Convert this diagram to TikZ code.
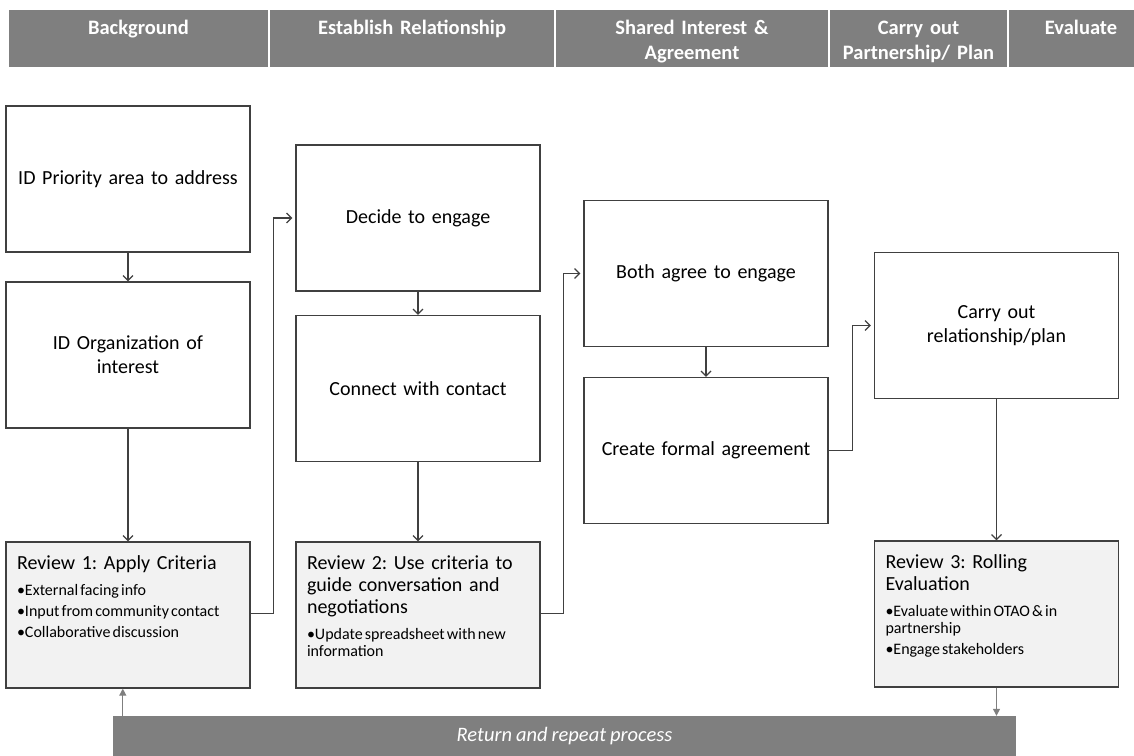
\documentclass[tikz,border=0pt]{standalone}
\usepackage{fontspec}
\setmainfont{Carlito}[WordSpace=0.85]
\usetikzlibrary{arrows.meta, positioning}
\definecolor{greydark}{RGB}{64,64,64}
\definecolor{greymid}{RGB}{127,127,127}
\definecolor{greylight}{RGB}{242,242,242}
\frenchspacing
\newcommand{\butir}[1]{\par\vspace{4pt}{\fontsize{16}{17}\selectfont\spaceskip=0.7\fontdimen2\font
  \hangindent=8pt\hangafter=1\noindent\makebox[8pt][l]{•}#1\par}}

\begin{document}
\begin{tikzpicture}[x=1pt, y=-1pt,
        every node/.style={font=\fontsize{20}{24}\selectfont},
        head/.style={rectangle, fill=greymid, draw=white, line width=1.5pt,
                     outer sep=0pt, inner sep=0pt, text=white, align=center,
                     font=\bfseries\fontsize{20.5}{25}\selectfont,
                     text height=25pt, text depth=34pt},
        box/.style={rectangle, draw=greydark, line width=1.3pt, fill=white,
                    minimum width=244pt, minimum height=146pt, text width=232pt,
                    align=center, inner sep=0pt},
        review/.style={box, fill=greylight, align=left, text width=222pt,
                       inner xsep=11pt, inner ysep=0pt,
                       font=\fontsize{20}{22}\selectfont,
                       text height=27pt, text depth=119pt},
        bar/.style={rectangle, fill=greymid, minimum width=903pt, minimum height=40pt,
                    text=white, font=\itshape\fontsize{20.5}{24}\selectfont},
        arr/.style={-{Straight Barb[length=5pt,width=10pt]}, line width=1.2pt, greydark},
        back/.style={-{Triangle[length=7pt,width=7pt]}, line width=1.2pt, greymid}
    ]
        \useasboundingbox (0,0) rectangle (1134,755);
        % phase header
        \node[head, text width=261pt, anchor=north west] (h1) at (8,9) {Background};
        \node[head, text width=286pt, right=0pt of h1] (h2) {Establish Relationship};
        \node[head, text width=274pt, right=0pt of h2] (h3) {Shared Interest \&\\Agreement};
        \node[head, text width=179pt, right=0pt of h3] (h4) {Carry out\\Partnership/ Plan};
        \node[head, text width=146pt, right=0pt of h4] (h5) {Evaluate};
        % steps
        \node[box] (prio) at (128,179)   {ID Priority area to address};
        \node[box] (org)  at (128,355)   {ID Organization of\\interest};
        \node[review] (rev1) at (128,615) {Review 1: Apply Criteria\par\vspace{5pt}
            \butir{External facing info}\butir{Input from community contact}
            \butir{Collaborative discussion}};
        \node[box] (decide)  at (418,218)   {Decide to engage};
        \node[box] (connect) at (418,388.5) {Connect with contact};
        \node[review] (rev2) at (418,615) {Review 2: Use criteria to\\guide conversation and\\negotiations\par\vspace{5pt}
            \butir{Update spreadsheet with new\\information}};
        \node[box] (agree)  at (706,273.5) {Both agree to engage};
        \node[box] (formal) at (706,450.5) {Create formal agreement};
        \node[box] (carry) at (996.5,325.5) {Carry out\\relationship/plan};
        \node[review] (rev3) at (996.5,614) {Review 3: Rolling\\Evaluation\par\vspace{5pt}
            \butir{Evaluate within OTAO \& in\\partnership}\butir{Engage stakeholders}};
        \node[bar] (repeat) at (564.5,736) {Return and repeat process};
        % flow
        \draw[arr] (prio.south) -- (org.north);
        \draw[arr] (org.south) -- (rev1.north);
        \draw[arr] ([yshift=-72pt]rev1.north east) -- ++(23,0) |- ([xshift=-3pt]decide.west);
        \draw[arr] (decide.south) -- (connect.north);
        \draw[arr] (connect.south) -- (rev2.north);
        \draw[arr] ([yshift=-72pt]rev2.north east) -- ++(23,0) |- ([xshift=-3pt]agree.west);
        \draw[arr] (agree.south) -- (formal.north);
        \draw[arr] (formal.east) -- ++(24,0) |- ([xshift=-3pt]carry.west);
        \draw[arr] (carry.south) -- (rev3.north);
        \draw[back] (rev3.south) -- (rev3.south |- repeat.north);
        \draw[back] ([xshift=10pt]repeat.north west) -- ([xshift=10pt]repeat.north west |- rev1.south);
    \end{tikzpicture}
\end{document}
